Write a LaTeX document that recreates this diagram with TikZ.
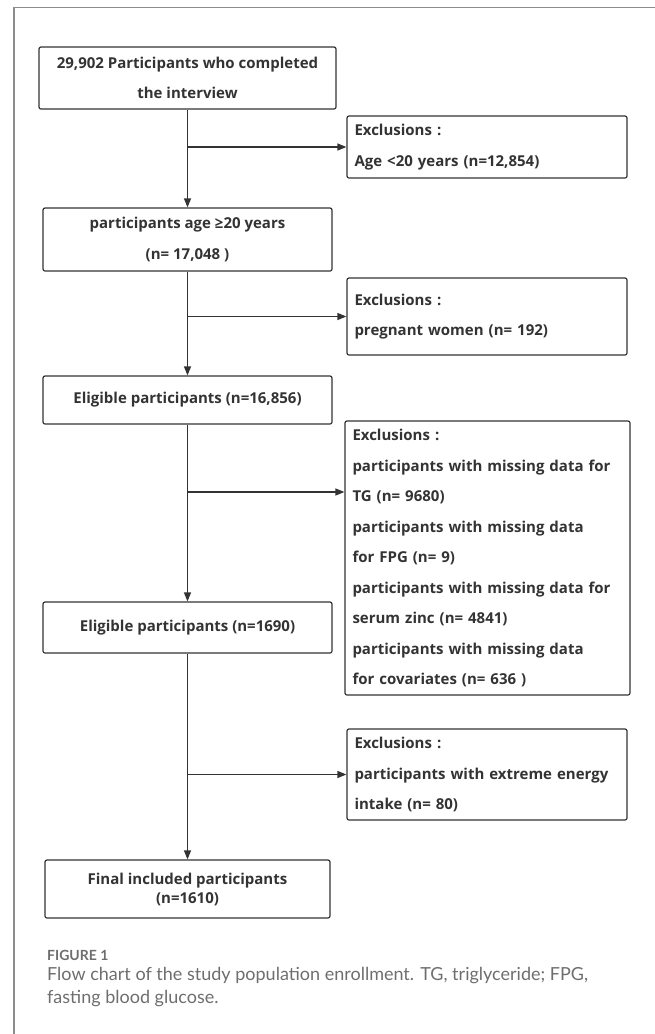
\documentclass[tikz,border=0pt]{standalone}
\usepackage{fontspec}
\setmainfont{Open Sans}
\newfontfamily\capfont{Lato}
\usetikzlibrary{arrows.meta}

\definecolor{inkgray}{HTML}{333333}
\definecolor{framegray}{HTML}{8C8C8C}
\definecolor{capgray}{HTML}{6E6E6E}

\tikzset{
  flowbox/.style={draw=inkgray, line width=1.2pt, rounded corners=2pt, text=inkgray,
    font=\bfseries\fontsize{15}{30.5}\selectfont, align=center, inner sep=0pt},
  exclbox/.style={flowbox, align=left, inner xsep=7.5pt},
  flowarrow/.style={draw=inkgray, line width=1.2pt, -{Triangle[length=9pt,width=7pt]}}
}

\begin{document}
\begin{tikzpicture}[x=1pt, y=-1pt]
\useasboundingbox (0,0) rectangle (655,1034);

% frame
\draw[framegray, line width=1.5pt] (14,1034) -- (14,7.5) -- (655,7.5);

%%%  nodes

% main boxes
\node[flowbox, minimum width=297pt, minimum height=62pt] (start) at (187.5,78) {29,902 Participants who completed\\the interview};
\node[flowbox, minimum width=289pt, minimum height=63pt] (adult) at (187.5,239.5) {participants age ≥20 years\\(n= 17,048 )};
\node[flowbox, minimum width=289pt, minimum height=48pt] (elig1) at (187.5,400) {Eligible participants (n=16,856)};
\node[flowbox, minimum width=289pt, minimum height=51pt] (elig2) at (187.5,627.5) {Eligible participants (n=1690)};
\node[flowbox, minimum width=285pt, minimum height=58pt, font=\bfseries\fontsize{15}{19}\selectfont] (final) at (187.5,889) {Final included participants\\(n=1610)};

% exclusion boxes
\node[exclbox, text width=265pt, minimum height=62pt] (exage) at (487,147) {Exclusions :\\Age <20 years (n=12,854)};
\node[exclbox, text width=265pt, minimum height=77pt] (expreg) at (487,316.5) {Exclusions :\\pregnant women (n= 192)};
\node[exclbox, text width=270pt, minimum height=274pt] (exmiss) at (487.5,558) {Exclusions :\\participants with missing data for\\TG (n= 9680)\\participants with missing data\\for FPG (n= 9)\\participants with missing data for\\serum zinc (n= 4841)\\participants with missing data\\for covariates (n= 636 )};
\node[exclbox, text width=265pt, minimum height=91pt] (exenergy) at (487,774.5) {Exclusions :\\participants with extreme energy\\intake (n= 80)};

% split point
\coordinate (split3) at (187.5,492);

% caption
\node[anchor=west, inner sep=0pt, text=capgray, font=\capfont\bfseries\fontsize{14}{16}\selectfont] (figlabel) at (47,955) {FIGURE 1};
\node[anchor=north west, inner sep=0pt, align=left, text=capgray, font=\capfont\fontsize{18}{23.5}\selectfont] (caption) at (47,967) {Flow chart of the study population enrollment. TG, triglyceride; FPG,\\fasting blood glucose.};

%%% edges

% main flow
\draw[flowarrow] (start) -- (adult);
\draw[flowarrow] (adult) -- (elig1);
\draw[flowarrow] (elig1) -- (elig2);
\draw[flowarrow] (elig2) -- (final);

% exclusions
\draw[flowarrow] (start |- exage) -- (exage);
\draw[flowarrow] (adult |- expreg) -- (expreg);
\draw[flowarrow] (split3) -- (exmiss.west |- split3);
\draw[flowarrow] (elig2 |- exenergy) -- (exenergy);
\end{tikzpicture}
\end{document}
